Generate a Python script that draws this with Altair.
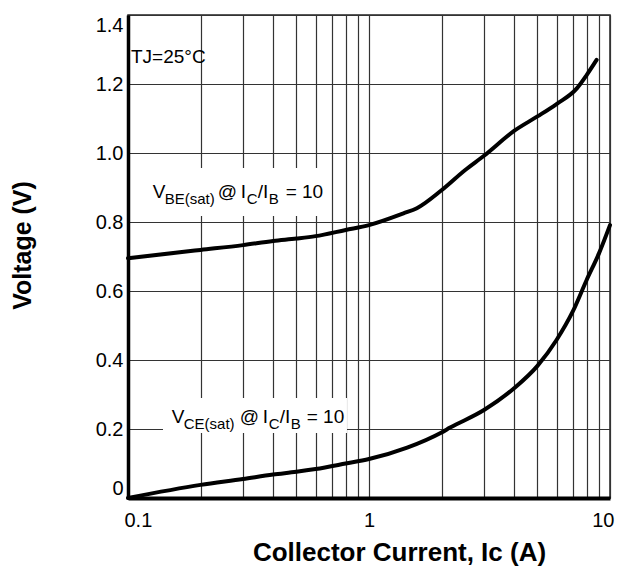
import altair as alt
import pandas as pd

# ---- data ----
ic_be = [0.1, 0.2, 0.3, 0.4, 0.5, 0.6, 0.8, 1.0, 1.39, 1.58, 2.0, 2.5, 3.0, 4.0, 5.0, 6.0, 7.3, 8.0, 8.8]
v_be = [0.695, 0.719, 0.733, 0.745, 0.752, 0.759, 0.777, 0.791, 0.825, 0.84, 0.892, 0.95, 0.992, 1.064, 1.106, 1.142, 1.188, 1.226, 1.27]
ic_ce = [0.1, 0.2, 0.3, 0.4, 0.5, 0.6, 0.8, 1.0, 1.44, 2.0, 2.17, 3.0, 4.0, 5.0, 6.0, 7.0, 8.0, 9.0, 10.0]
v_ce = [0.0, 0.038, 0.055, 0.068, 0.076, 0.084, 0.1, 0.113, 0.146, 0.19, 0.204, 0.255, 0.318, 0.383, 0.458, 0.54, 0.632, 0.709, 0.791]

x_ticks = [0.1, 0.2, 0.3, 0.4, 0.5, 0.6, 0.7, 0.8, 0.9, 1, 2, 3, 4, 5, 6, 7, 8, 9, 10]
y_ticks = [0, 0.2, 0.4, 0.6, 0.8, 1.0, 1.2, 1.4]

# label anchors (data units) and white label boxes
tj_anchor = {"ic": [0.1029], "v": [1.261]}
be_anchor = {"ic": [0.123], "v": [0.87]}
ce_anchor = {"ic": [0.149], "v": [0.217]}
box_ic = [0.1121, 0.1397]
box_ic2 = [0.676, 0.8103]
box_v = [0.8174, 0.1884]
box_v2 = [0.9565, 0.29]

FONT = "Liberation Sans, Arial"

curves = pd.DataFrame({
    "ic": ic_be + ic_ce,
    "v": v_be + v_ce,
    "series": ["VBE(sat)"] * len(ic_be) + ["VCE(sat)"] * len(ic_ce),
})

xscale = alt.Scale(type="log", domain=[0.1, 10], nice=False)
yscale = alt.Scale(domain=[0, 1.4], nice=False, zero=False)

x_axis = alt.Axis(
    values=x_ticks, grid=True, ticks=False,
    labelExpr="datum.value == 0.1 ? '0.1' : datum.value == 1 ? '1' : datum.value == 10 ? '10' : ''",
    labelFlush=True, labelFlushOffset=4,
    labelPadding=12, labelFont=FONT, labelFontSize=20, labelColor="black",
    domainWidth=4, domainColor="black",
    title="Collector Current, Ic (A)", titleFont=FONT, titleFontSize=26, titleFontWeight="bold",
    titleX=271, titleY=62, titleAlign="center", titleBaseline="alphabetic", titleColor="black",
)
y_axis = alt.Axis(
    values=y_ticks, grid=True, ticks=False,
    labelExpr="datum.value == 0 ? '0' : format(datum.value, '.1f')",
    labelFlush=True, labelPadding=5, labelFont=FONT, labelFontSize=20, labelColor="black",
    domainWidth=3.5, domainColor="black",
    title="Voltage (V)", titleFont=FONT, titleFontSize=25, titleFontWeight="bold",
    titleX=-106, titleY=230, titleAngle=270, titleAlign="center", titleBaseline="middle", titleColor="black",
)

lines = alt.Chart(curves).mark_line(
    color="black", strokeWidth=4, interpolate="monotone", strokeCap="round", strokeJoin="round"
).encode(
    x=alt.X("ic:Q", scale=xscale, axis=x_axis),
    y=alt.Y("v:Q", scale=yscale, axis=y_axis),
    detail="series:N",
)

boxes = alt.Chart(pd.DataFrame({"ic": box_ic, "ic2": box_ic2, "v": box_v, "v2": box_v2})).mark_rect(
    color="white"
).encode(x="ic:Q", x2="ic2:Q", y="v:Q", y2="v2:Q")


def seg(anchor, text, dx, dy, size):
    return alt.Chart(pd.DataFrame(anchor)).mark_text(
        text=text, dx=dx, dy=dy, fontSize=size, font=FONT, align="left",
        baseline="alphabetic", color="black"
    ).encode(x="ic:Q", y="v:Q")


MAIN, SUB, SD = 19, 15, 6
texts = [
    seg(tj_anchor, "TJ=25°C", 0, 0, 19),
    # VBE(sat) @ IC/IB = 10
    seg(be_anchor, "V", 3, 0, MAIN),
    seg(be_anchor, "BE(sat)", 15, SD, SUB),
    seg(be_anchor, "@", 68, 0, MAIN),
    seg(be_anchor, "I", 91, 0, MAIN),
    seg(be_anchor, "C", 97, SD, SUB),
    seg(be_anchor, "/I", 108, 0, MAIN),
    seg(be_anchor, "B", 119, SD, SUB),
    seg(be_anchor, "= 10", 136, 0, MAIN),
    # VCE(sat) @ IC/IB = 10
    seg(ce_anchor, "V", 2, 0, MAIN),
    seg(ce_anchor, "CE(sat)", 14, SD, SUB),
    seg(ce_anchor, "@", 70, 0, MAIN),
    seg(ce_anchor, "I", 93, 0, MAIN),
    seg(ce_anchor, "C", 99, SD, SUB),
    seg(ce_anchor, "/I", 110, 0, MAIN),
    seg(ce_anchor, "B", 121, SD, SUB),
    seg(ce_anchor, "= 10", 137, 0, MAIN),
]

chart = alt.layer(boxes, lines, *texts).properties(
    width=482, height=483,
    autosize=alt.AutoSizeParams(type="none"),
    padding={"left": 120, "top": 7, "right": 6, "bottom": 70},
    background="white",
).configure_view(
    stroke="#222", strokeWidth=1.5
).configure_axis(
    gridColor="#333", gridWidth=1.2, gridOpacity=1
)

chart.save("out.html", embed_options={"renderer": "svg", "actions": False})
